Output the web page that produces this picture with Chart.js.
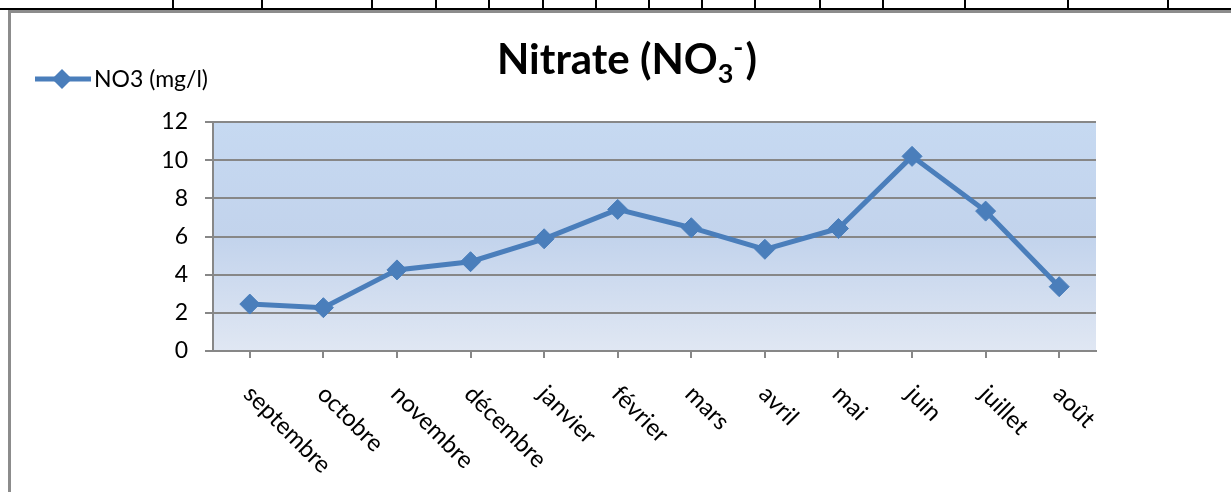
<!DOCTYPE html>
<html lang="fr">
<head>
<meta charset="utf-8">
<title>Nitrate (NO3-)</title>
<script src="https://cdn.jsdelivr.net/npm/chart.js@4.4.1/dist/chart.umd.min.js"></script>
<style>
  html, body { margin: 0; padding: 0; background: #fff; }
  body { width: 1231px; height: 492px; position: relative; overflow: hidden; }
  /* bordure du tableau au-dessus du graphique */
  .rule { position: absolute; left: 0; top: 8px; width: 1231px; height: 2px; background: #000; }
  .cell { position: absolute; top: 0; width: 2px; height: 9px; background: #000; }
  .cadre {
    position: absolute; left: 8px; top: 10px; right: -10px; bottom: -10px;
    border-left: 3px solid #8c8c8c; border-top: 3px solid #8c8c8c;
  }
  #no3Chart { position: absolute; left: 11px; top: 13px; }
</style>
</head>
<body>
<div class="rule"></div>
<div class="cadre"></div>
<canvas id="no3Chart" width="1220" height="479"></canvas>
<script>
// Données mensuelles
const mois = ["septembre", "octobre", "novembre", "décembre", "janvier", "février",
              "mars", "avril", "mai", "juin", "juillet", "août"];
const no3 = [2.46, 2.27, 4.25, 4.68, 5.88, 7.42, 6.46, 5.33, 6.42, 10.2, 7.33, 3.37];
const serieLabel = "NO3 (mg/l)";
const yMin = 0, yMax = 12, yStep = 2;

const bleu = "#4a7ebb";
const gris = "#878787";
const police = "Lato, 'Open Sans', sans-serif";

// traits verticaux des cellules du tableau
[173, 262, 372, 436, 489, 543, 596, 649, 702, 755, 820, 883, 965, 1068, 1168].forEach(function (x) {
  const d = document.createElement("div");
  d.className = "cell";
  d.style.left = (x - 1) + "px";
  document.body.appendChild(d);
});

// fond dégradé de la zone de traçage
const fondPlot = {
  id: "fondPlot",
  beforeDraw(chart) {
    const { ctx, chartArea: a } = chart;
    const g = ctx.createLinearGradient(0, a.top, 0, a.bottom);
    g.addColorStop(0, "#c6d9f1");
    g.addColorStop(0.5, "#c2d3ec");
    g.addColorStop(1, "#e0e7f3");
    ctx.save();
    ctx.fillStyle = g;
    ctx.fillRect(a.left, a.top, a.right - a.left, a.bottom - a.top);
    ctx.restore();
  },
};

// titre avec indice et exposant
const titre = {
  id: "titre",
  afterDraw(chart) {
    const ctx = chart.ctx;
    const grand = "bold 42px " + police;
    const petit = "bold 27px " + police;
    ctx.save();
    ctx.fillStyle = "#000";
    ctx.textBaseline = "alphabetic";
    ctx.textAlign = "left";
    ctx.font = grand;
    const wA = ctx.measureText("Nitrate (NO").width;
    const wP = ctx.measureText(")").width;
    ctx.font = petit;
    const w3 = ctx.measureText("3").width;
    const wM = ctx.measureText("-").width;
    const w = wA + w3 + wM + 2 + wP;
    let x = 627 - 11 - w / 2;
    const base = 61;
    ctx.font = grand; ctx.fillText("Nitrate (NO", x, base); x += wA;
    ctx.font = petit;
    ctx.fillText("3", x, base + 9); x += w3;
    ctx.fillText("-", x, base - 17); x += wM + 2;
    ctx.font = grand; ctx.fillText(")", x, base);
    ctx.restore();
  },
};

// légende à gauche, au-dessus de l'axe
const legende = {
  id: "legende",
  afterDraw(chart) {
    const ctx = chart.ctx;
    const ds = chart.data.datasets[0];
    const y = 66;
    ctx.save();
    ctx.strokeStyle = ds.borderColor;
    ctx.lineWidth = 5;
    ctx.beginPath();
    ctx.moveTo(24, y);
    ctx.lineTo(80, y);
    ctx.stroke();
    ctx.fillStyle = ds.pointBackgroundColor;
    ctx.beginPath();
    ctx.moveTo(51, y - 10);
    ctx.lineTo(61, y);
    ctx.lineTo(51, y + 10);
    ctx.lineTo(41, y);
    ctx.closePath();
    ctx.fill();
    ctx.fillStyle = "#000";
    ctx.font = "23px " + police;
    ctx.textBaseline = "middle";
    ctx.fillText(ds.label, 83, y + 1);
    ctx.restore();
  },
};

// étiquettes de mois inclinées vers le bas
const moisInclines = {
  id: "moisInclines",
  afterDraw(chart) {
    const ctx = chart.ctx;
    const xs = chart.scales.x;
    ctx.save();
    ctx.fillStyle = "#000";
    ctx.font = "24px " + police;
    ctx.textAlign = "left";
    ctx.textBaseline = "middle";
    chart.data.labels.forEach(function (lab, i) {
      const x = xs.getPixelForValue(i);
      ctx.save();
      ctx.translate(x - 2, xs.top + 39);
      ctx.rotate(Math.PI / 4);
      ctx.fillText(lab, 0, 0);
      ctx.restore();
    });
    ctx.restore();
  },
};

new Chart(document.getElementById("no3Chart").getContext("2d"), {
  type: "line",
  data: {
    labels: mois,
    datasets: [
      {
        label: serieLabel,
        data: no3,
        borderColor: bleu,
        backgroundColor: bleu,
        borderWidth: 5,
        tension: 0,
        fill: false,
        pointStyle: "rectRot",
        pointRadius: 10,
        pointBackgroundColor: bleu,
        pointBorderColor: bleu,
        pointBorderWidth: 1,
      },
    ],
  },
  options: {
    responsive: false,
    animation: false,
    layout: { padding: { left: 0, top: 109, right: 135, bottom: 0 } },
    scales: {
      x: {
        type: "category",
        offset: true,
        grid: { drawOnChartArea: false, drawTicks: true, tickLength: 7, color: gris, lineWidth: 2 },
        border: { color: gris, width: 2 },
        ticks: { display: false },
        afterFit(scale) { scale.height = 141; },
      },
      y: {
        min: yMin,
        max: yMax,
        ticks: { stepSize: yStep, color: "#000", font: { family: police, size: 23 }, padding: 17 },
        grid: { color: gris, lineWidth: 2, tickLength: 8 },
        border: { color: gris, width: 2 },
        afterFit(scale) { scale.width = 202; },
      },
    },
    plugins: {
      legend: { display: false },
      tooltip: { enabled: false },
    },
  },
  plugins: [fondPlot, titre, legende, moisInclines],
});
</script>
</body>
</html>
